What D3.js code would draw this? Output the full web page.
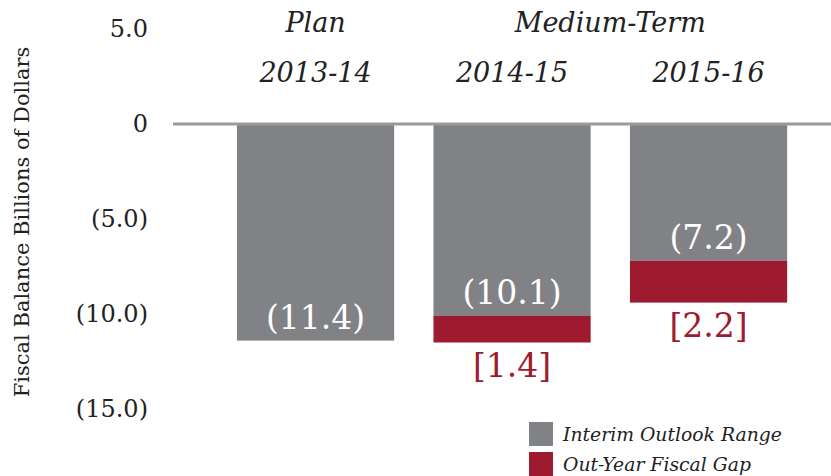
<!DOCTYPE html>
<html>
<head>
<meta charset="utf-8">
<script src="https://cdn.jsdelivr.net/npm/d3@7"></script>
<style>
  body { margin: 0; background: #fff; }
  text { font-family: "DejaVu Serif", Georgia, serif; }
</style>
</head>
<body>
<div id="container"></div>
<script>
// data we work with
let years = ["2013-14", "2014-15", "2015-16"];
let interim = [-11.4, -10.1, -7.2];
let gap = [0, -1.4, -2.2];
let tickValues = [5, 0, -5, -10, -15];
let tickLabels = ["5.0", "0", "(5.0)", "(10.0)", "(15.0)"];

const w = 831;
const h = 476;
const grey = "#818286";
const red = "#9e1b2f";

let viz = d3.select("#container")
  .append("svg")
    .attr("width", w)
    .attr("height", h)
;

let yScale = d3.scaleLinear().domain([-15, 5]).range([409, 29]);
let xScale = d3.scaleBand().domain(years).range([217.3, 806.8]).paddingInner(0.2).paddingOuter(0.1);

// y axis tick labels
viz.selectAll(".tick").data(tickValues).enter()
  .append("text")
    .attr("x", 148)
    .attr("y", d => yScale(d))
    .attr("dy", "0.35em")
    .attr("text-anchor", "end")
    .attr("font-size", 24)
    .attr("fill", "#222")
    .text((d, i) => tickLabels[i])
;

// axis title
viz.append("text")
  .attr("transform", "translate(29,222) rotate(-90)")
  .attr("text-anchor", "middle")
  .attr("font-size", 21)
  .attr("fill", "#222")
  .text("Fiscal Balance Billions of Dollars")
;

// grey bars
viz.selectAll(".bar").data(years).enter()
  .append("rect")
    .attr("x", d => xScale(d))
    .attr("width", xScale.bandwidth())
    .attr("y", yScale(0))
    .attr("height", (d, i) => yScale(interim[i]) - yScale(0))
    .attr("fill", grey)
;

// red gap bars
viz.selectAll(".gap").data(years).enter()
  .append("rect")
    .attr("x", d => xScale(d))
    .attr("width", xScale.bandwidth())
    .attr("y", (d, i) => yScale(interim[i]))
    .attr("height", (d, i) => yScale(interim[i] + gap[i]) - yScale(interim[i]))
    .attr("fill", red)
;

// zero line
viz.append("line")
  .attr("x1", 173).attr("x2", w)
  .attr("y1", yScale(0)).attr("y2", yScale(0))
  .attr("stroke", "#9a9a9c")
  .attr("stroke-width", 3)
;

// value labels inside grey bars
viz.selectAll(".val").data(years).enter()
  .append("text")
    .attr("x", d => xScale(d) + xScale.bandwidth() / 2)
    .attr("y", (d, i) => yScale(interim[i]) - 12)
    .attr("text-anchor", "middle")
    .attr("font-size", 33)
    .attr("fill", "#fff")
    .text((d, i) => "(" + Math.abs(interim[i]).toFixed(1) + ")")
;

// gap labels below red bars
viz.selectAll(".gapval").data(years.filter((d, i) => gap[i] != 0)).enter()
  .append("text")
    .attr("x", d => xScale(d) + xScale.bandwidth() / 2)
    .attr("y", d => {
      let i = years.indexOf(d);
      return yScale(interim[i] + gap[i]) + 34;
    })
    .attr("text-anchor", "middle")
    .attr("font-size", 33)
    .attr("fill", red)
    .text(d => "[" + Math.abs(gap[years.indexOf(d)]).toFixed(1) + "]")
;

// year labels
viz.selectAll(".year").data(years).enter()
  .append("text")
    .attr("x", d => xScale(d) + xScale.bandwidth() / 2)
    .attr("y", 82)
    .attr("text-anchor", "middle")
    .attr("font-size", 27)
    .attr("font-style", "italic")
    .attr("fill", "#222")
    .text(d => d)
;

// group headers
let c1 = xScale(years[0]) + xScale.bandwidth() / 2;
let c2 = (xScale(years[1]) + xScale(years[2]) + xScale.bandwidth()) / 2;
viz.append("text")
  .attr("x", c1).attr("y", 32)
  .attr("text-anchor", "middle")
  .attr("font-size", 27)
  .attr("font-style", "italic")
  .attr("fill", "#222")
  .text("Plan");
viz.append("text")
  .attr("x", c2).attr("y", 32)
  .attr("text-anchor", "middle")
  .attr("font-size", 27)
  .attr("font-style", "italic")
  .attr("fill", "#222")
  .text("Medium-Term");

// legend
let legendItems = ["Interim Outlook Range", "Out-Year Fiscal Gap"];
let legendColors = [grey, red];
let legend = viz.selectAll(".legend").data(legendItems).enter()
  .append("g")
    .attr("transform", (d, i) => "translate(529," + (422 + i * 30) + ")")
;
legend.append("rect")
  .attr("width", 24).attr("height", 24)
  .attr("fill", (d, i) => legendColors[i]);
legend.append("text")
  .attr("x", 34).attr("y", 19)
  .attr("font-size", 18.8)
  .attr("font-style", "italic")
  .attr("fill", "#222")
  .text(d => d);
</script>
</body>
</html>
